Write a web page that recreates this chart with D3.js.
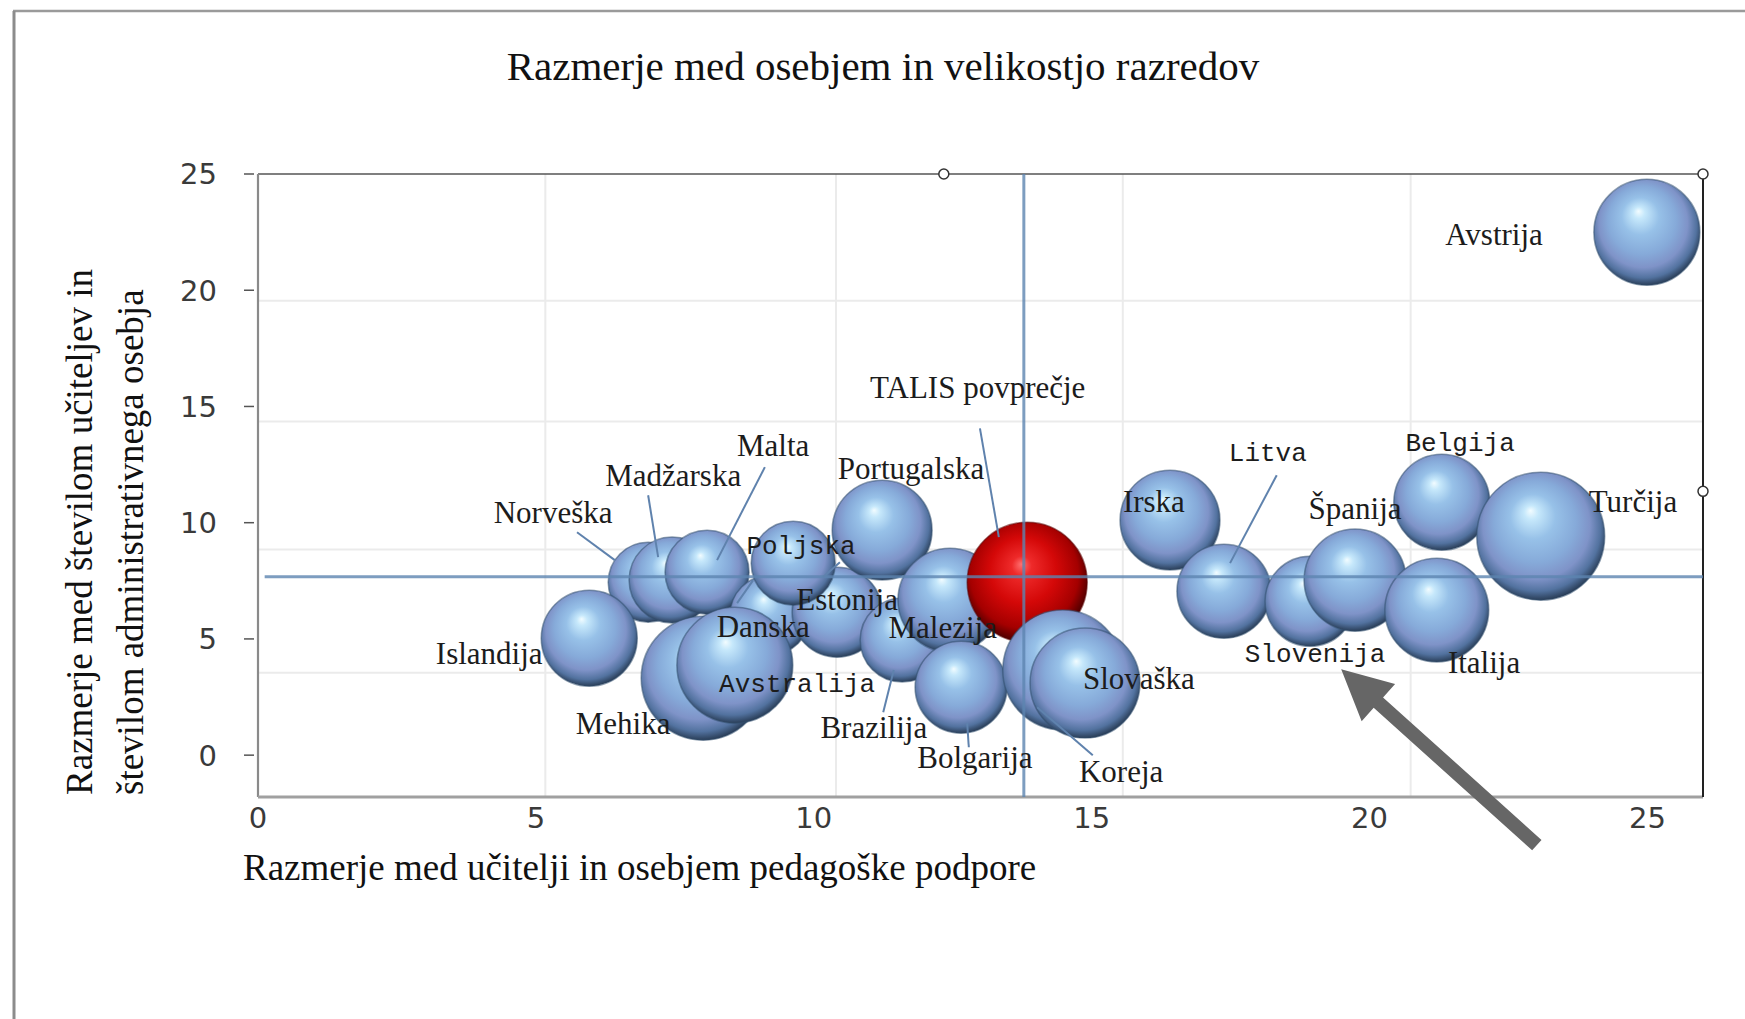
<!DOCTYPE html>
<html>
<head>
<meta charset="utf-8">
<script src="https://cdn.jsdelivr.net/npm/d3@7"></script>
<style>
  body { margin: 0; background: #fff; }
  svg { display: block; }
</style>
</head>
<body>
<svg></svg>
<script>
var width = 1745;
var height = 1019;
var svg = d3.select("svg");
svg.attr("width", width).attr("height", height);

// data (drawn back to front)
var countries = ["Norveška", "Madžarska", "Malta", "Islandija", "Danska", "Estonija", "Poljska", "Portugalska",
                 "Mehika", "Avstralija", "Brazilija", "Malezija", "Bolgarija", "TALIS povprečje", "Koreja", "Slovaška",
                 "Irska", "Litva", "Slovenija", "Španija", "Belgija", "Italija", "Turčija", "Avstrija"];
var supportRatio = [7.02, 7.45, 8.08, 5.96, 9.21, 10.42, 9.63, 11.23,
                    8.01, 8.58, 11.59, 12.45, 12.65, 13.84, 14.48, 14.88,
                    16.41, 17.38, 18.93, 19.74, 21.30, 21.21, 23.08, 24.99];
var adminRatio = [7.44, 7.53, 7.87, 5.03, 6.02, 6.15, 8.26, 9.68,
                  3.31, 3.87, 4.95, 6.67, 2.92, 7.44, 3.66, 3.10,
                  10.11, 7.05, 6.62, 7.53, 10.88, 6.24, 9.42, 22.49];
var classSize = [13.3, 15.4, 14.7, 19.2, 13.3, 16.9, 14.7, 20.8,
                 32.0, 28.0, 14.7, 22.5, 17.6, 30.0, 30.0, 25.2,
                 20.8, 18.4, 16.9, 21.7, 19.2, 22.5, 34.1, 23.4];

var talisAvgX = 13.78;
var talisAvgY = 7.68;

var xTicks = [0, 5, 10, 15, 20, 25];
var yTicks = [0, 5, 10, 15, 20, 25];
// the pasted picture's own gridlines do not sit on the ticks
var gridX = [5.17, 10.4, 15.56, 20.74];
var gridY = [3.55, 8.85, 14.35, 19.55];

// label anchors (data units)
var labelAt = {
  "Islandija": [4.16, 3.91], "Mehika": [6.57, 0.90], "Norveška": [5.31, 9.98],
  "Madžarska": [7.47, 11.57], "Malta": [9.27, 12.88], "Portugalska": [11.75, 11.87],
  "Poljska": [9.77, 8.65], "Estonija": [10.60, 6.24], "Danska": [9.09, 5.08],
  "Malezija": [12.32, 5.03], "Avstralija": [9.70, 2.71], "Brazilija": [11.08, 0.74],
  "Bolgarija": [12.90, -0.57], "Koreja": [15.53, -1.17], "Slovaška": [15.85, 2.85],
  "TALIS povprečje": [12.95, 15.35], "Irska": [16.12, 10.45], "Litva": [18.17, 12.65],
  "Španija": [19.74, 10.15], "Belgija": [21.63, 13.08], "Turčija": [24.74, 10.45],
  "Slovenija": [19.02, 4.00], "Italija": [22.06, 3.53], "Avstrija": [22.24, 21.94]
};
var monoLabels = ["Poljska", "Avstralija", "Litva", "Belgija", "Slovenija"];
var leaders = [
  [[5.74, 9.59], [6.42, 8.39]], [[7.02, 11.18], [7.20, 8.52]], [[9.12, 12.39], [8.26, 8.39]],
  [[12.99, 14.06], [13.33, 9.38]], [[11.25, 1.85], [11.44, 3.66]], [[12.79, 0.34], [12.76, 1.38]],
  [[14.02, 2.06], [15.02, 0.0]], [[18.33, 12.04], [17.49, 8.26]], [[8.62, 6.54], [8.91, 7.53]],
  [[10.17, 7.66], [10.47, 8.30]]
];
var arrowFrom = [23.01, -3.87];
var arrowTo = [19.49, 3.70];

var xScale = d3.scaleLinear().domain([0, 26]).range([258, 1703]);
var yScale = d3.scaleLinear().domain([-1.8, 25]).range([797, 174]);
var rScale = d3.scaleSqrt().domain([0, 30]).range([0, 60]);

var bubbles = countries.map(function(c, i) {
  return {name: c, x: supportRatio[i], y: adminRatio[i], s: classSize[i]};
});

// gradients
var defs = svg.append("defs");
var blue = defs.append("radialGradient").attr("id", "ball")
    .attr("cx", "48%").attr("cy", "45%").attr("r", "55%").attr("fx", "42%").attr("fy", "30%");
[["0%", "#f2fcff"], ["10%", "#c6e8fb"], ["32%", "#97c1e8"], ["58%", "#86aad9"],
 ["76%", "#7f93c8"], ["90%", "#52729f"], ["100%", "#2a3e58"]].forEach(function(s) {
  blue.append("stop").attr("offset", s[0]).attr("stop-color", s[1]);
});
var red = defs.append("radialGradient").attr("id", "redball")
    .attr("cx", "48%").attr("cy", "45%").attr("r", "55%").attr("fx", "45%").attr("fy", "35%");
[["0%", "#ff7070"], ["15%", "#ee2a2a"], ["50%", "#d40808"], ["82%", "#a40000"], ["100%", "#4a0000"]].forEach(function(s) {
  red.append("stop").attr("offset", s[0]).attr("stop-color", s[1]);
});

// page frame
svg.append("line").attr("x1", 13).attr("x2", width).attr("y1", 11).attr("y2", 11)
  .attr("stroke", "#9a9a9a").attr("stroke-width", 2.5);
svg.append("line").attr("x1", 14).attr("x2", 14).attr("y1", 11).attr("y2", height)
  .attr("stroke", "#8c8c8c").attr("stroke-width", 3);

// grid
var group = svg.append("g");
group.selectAll(".gx").data(gridX).enter().append("line")
  .attr("x1", function(d) { return xScale(d); }).attr("x2", function(d) { return xScale(d); })
  .attr("y1", yScale(25)).attr("y2", yScale(-1.8))
  .attr("stroke", "#ebebeb").attr("stroke-width", 2);
group.selectAll(".gy").data(gridY).enter().append("line")
  .attr("x1", xScale(0)).attr("x2", xScale(26))
  .attr("y1", function(d) { return yScale(d); }).attr("y2", function(d) { return yScale(d); })
  .attr("stroke", "#ebebeb").attr("stroke-width", 2);

// plot frame
group.append("line").attr("x1", xScale(0)).attr("x2", xScale(26)).attr("y1", yScale(25)).attr("y2", yScale(25))
  .attr("stroke", "#555").attr("stroke-width", 1.6);
group.append("line").attr("x1", xScale(0)).attr("x2", xScale(0)).attr("y1", yScale(25)).attr("y2", yScale(-1.8))
  .attr("stroke", "#8a8a8a").attr("stroke-width", 2.2);
group.append("line").attr("x1", xScale(0)).attr("x2", xScale(26)).attr("y1", yScale(-1.8)).attr("y2", yScale(-1.8))
  .attr("stroke", "#a0a0a0").attr("stroke-width", 3);
group.append("line").attr("x1", xScale(26)).attr("x2", xScale(26)).attr("y1", yScale(25)).attr("y2", yScale(-1.8))
  .attr("stroke", "#222").attr("stroke-width", 2);

// y ticks
group.selectAll(".yt").data(yTicks).enter().append("line")
  .attr("x1", 244).attr("x2", 254)
  .attr("y1", function(d) { return yScale(d); }).attr("y2", function(d) { return yScale(d); })
  .attr("stroke", "#555").attr("stroke-width", 1.5);
group.selectAll(".yl").data(yTicks).enter().append("text")
  .attr("x", 217).attr("y", function(d) { return yScale(d); })
  .attr("dy", "0.36em").attr("text-anchor", "end")
  .style("font-family", "'DejaVu Sans', sans-serif").style("font-size", "29px").style("fill", "#3a3a3a")
  .text(function(d) { return d; });
group.selectAll(".xl").data(xTicks).enter().append("text")
  .attr("x", function(d) { return xScale(d); }).attr("y", 828)
  .attr("text-anchor", "middle")
  .style("font-family", "'DejaVu Sans', sans-serif").style("font-size", "29px").style("fill", "#3a3a3a")
  .text(function(d) { return d; });

// bubbles
group.selectAll("circle.b").data(bubbles).enter().append("circle")
  .attr("class", "b")
  .attr("cx", function(d) { return xScale(d.x); })
  .attr("cy", function(d) { return yScale(d.y); })
  .attr("r", function(d) { return rScale(d.s); })
  .attr("fill", function(d) { return d.name === "TALIS povprečje" ? "url(#redball)" : "url(#ball)"; })
  .attr("stroke", function(d) { return d.name === "TALIS povprečje" ? "#5a0000" : "#33506f"; })
  .attr("stroke-opacity", 0.55).attr("stroke-width", 1.5);

// TALIS average lines
group.append("line").attr("x1", xScale(talisAvgX)).attr("x2", xScale(talisAvgX))
  .attr("y1", yScale(25)).attr("y2", yScale(-1.8))
  .attr("stroke", "#5d84b0").attr("stroke-opacity", 0.8).attr("stroke-width", 3);
group.append("line").attr("x1", xScale(0.12)).attr("x2", xScale(26))
  .attr("y1", yScale(talisAvgY)).attr("y2", yScale(talisAvgY))
  .attr("stroke", "#5d84b0").attr("stroke-opacity", 0.8).attr("stroke-width", 3);

// leader lines
group.selectAll(".ld").data(leaders).enter().append("line")
  .attr("x1", function(d) { return xScale(d[0][0]); }).attr("y1", function(d) { return yScale(d[0][1]); })
  .attr("x2", function(d) { return xScale(d[1][0]); }).attr("y2", function(d) { return yScale(d[1][1]); })
  .attr("stroke", "#5f82ad").attr("stroke-width", 2);

// labels
group.selectAll(".lb").data(countries).enter().append("text")
  .attr("x", function(d) { return xScale(labelAt[d][0]); })
  .attr("y", function(d) { return yScale(labelAt[d][1]); })
  .attr("text-anchor", "middle")
  .style("font-family", function(d) { return monoLabels.indexOf(d) >= 0 ? "'Liberation Mono', monospace" : "'Liberation Serif', serif"; })
  .style("font-size", function(d) { return monoLabels.indexOf(d) >= 0 ? "26px" : "31px"; })
  .style("fill", "#1c1c1c")
  .text(function(d) { return d; });

// selection handles of the pasted picture
[[12.34, 25], [26, 25], [26, 11.35]].forEach(function(h) {
  group.append("circle").attr("cx", xScale(h[0])).attr("cy", yScale(h[1])).attr("r", 5)
    .attr("fill", "#fff").attr("stroke", "#333").attr("stroke-width", 1.5);
});

// arrow pointing at Slovenija
(function() {
  var x0 = xScale(arrowFrom[0]), y0 = yScale(arrowFrom[1]);
  var x1 = xScale(arrowTo[0]), y1 = yScale(arrowTo[1]);
  var len = Math.hypot(x1 - x0, y1 - y0);
  var ux = (x1 - x0) / len, uy = (y1 - y0) / len, px = -uy, py = ux;
  var sw = 7, hw = 25, hl = 50;
  var bx = x1 - ux * hl, by = y1 - uy * hl;
  var pts = [
    [x0 + px * sw, y0 + py * sw], [bx + px * sw, by + py * sw], [bx + px * hw, by + py * hw],
    [x1, y1],
    [bx - px * hw, by - py * hw], [bx - px * sw, by - py * sw], [x0 - px * sw, y0 - py * sw]
  ];
  svg.append("polygon").attr("points", pts.map(function(p) { return p.join(","); }).join(" "))
    .attr("fill", "#666");
})();

// titles
svg.append("text").attr("x", 883).attr("y", 80).attr("text-anchor", "middle")
  .style("font-family", "'Liberation Serif', serif").style("font-size", "41px").style("fill", "#111")
  .text("Razmerje med osebjem in velikostjo razredov");
svg.append("text").attr("x", 243).attr("y", 880)
  .style("font-family", "'Liberation Serif', serif").style("font-size", "37px").style("fill", "#111")
  .text("Razmerje med učitelji in osebjem pedagoške podpore");
var yTitle = svg.append("text").attr("transform", "translate(92,795) rotate(-90)")
  .style("font-family", "'Liberation Serif', serif").style("font-size", "37px").style("fill", "#111");
yTitle.append("tspan").attr("x", 0).attr("y", 0).text("Razmerje med številom učiteljev in");
yTitle.append("tspan").attr("x", 0).attr("y", 51).text("številom administrativnega osebja");
</script>
</body>
</html>
